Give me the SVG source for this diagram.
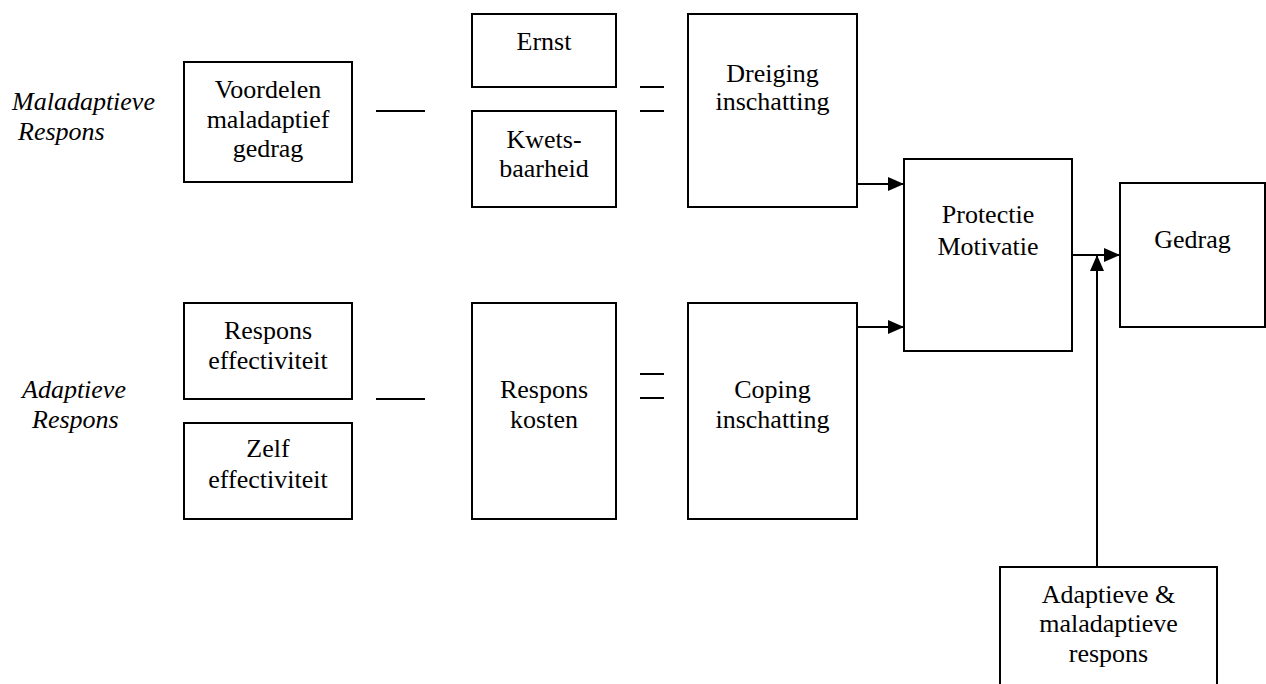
<svg xmlns="http://www.w3.org/2000/svg" width="1266" height="684" viewBox="0 0 1266 684">
<style>
.box{fill:#fff;stroke:#000;stroke-width:2}
.ln{stroke:#000;stroke-width:2;fill:none}
</style>
<defs>
<marker id="ah" markerWidth="16" markerHeight="14" refX="16" refY="7" orient="auto" markerUnits="userSpaceOnUse">
<path d="M0,0 L16,7 L0,14 Z" fill="#000"/>
</marker>
</defs>
<rect width="1266" height="684" fill="#fff"/>
<g id="labels">
<text x="12" y="110" style="font-family:'Times New Roman','Liberation Serif',serif;font-size:26px;font-style:italic">Maladaptieve</text>
<text x="18" y="140" style="font-family:'Times New Roman','Liberation Serif',serif;font-size:26px;font-style:italic">Respons</text>
<text x="22" y="398" style="font-family:'Times New Roman','Liberation Serif',serif;font-size:26px;font-style:italic">Adaptieve</text>
<text x="32" y="428" style="font-family:'Times New Roman','Liberation Serif',serif;font-size:26px;font-style:italic">Respons</text>
</g>
<g id="voordelen">
<rect class="box" x="184" y="62" width="168" height="120"/>
<text x="268" y="98" style="font-family:'Times New Roman','Liberation Serif',serif;font-size:26px" text-anchor="middle">Voordelen</text>
<text x="268" y="128" style="font-family:'Times New Roman','Liberation Serif',serif;font-size:26px" text-anchor="middle">maladaptief</text>
<text x="268" y="157" style="font-family:'Times New Roman','Liberation Serif',serif;font-size:26px" text-anchor="middle">gedrag</text>
</g>
<g id="ernst">
<rect class="box" x="472" y="14" width="144" height="73"/>
<text x="544" y="50" style="font-family:'Times New Roman','Liberation Serif',serif;font-size:26px" text-anchor="middle">Ernst</text>
</g>
<g id="kwetsbaarheid">
<rect class="box" x="472" y="111" width="144" height="96"/>
<text x="544" y="148" style="font-family:'Times New Roman','Liberation Serif',serif;font-size:26px" text-anchor="middle">Kwets-</text>
<text x="544" y="177" style="font-family:'Times New Roman','Liberation Serif',serif;font-size:26px" text-anchor="middle">baarheid</text>
</g>
<g id="dreiging">
<rect class="box" x="688" y="14" width="169" height="193"/>
<text x="772.5" y="82" style="font-family:'Times New Roman','Liberation Serif',serif;font-size:26px" text-anchor="middle">Dreiging</text>
<text x="772.5" y="110" style="font-family:'Times New Roman','Liberation Serif',serif;font-size:26px" text-anchor="middle">inschatting</text>
</g>
<g id="protectie">
<rect class="box" x="904" y="159" width="168" height="192"/>
<text x="988" y="223" style="font-family:'Times New Roman','Liberation Serif',serif;font-size:26px" text-anchor="middle">Protectie</text>
<text x="988" y="255" style="font-family:'Times New Roman','Liberation Serif',serif;font-size:26px" text-anchor="middle">Motivatie</text>
</g>
<g id="gedrag">
<rect class="box" x="1120" y="183" width="145" height="144"/>
<text x="1192.5" y="248" style="font-family:'Times New Roman','Liberation Serif',serif;font-size:26px" text-anchor="middle">Gedrag</text>
</g>
<g id="respons-effectiviteit">
<rect class="box" x="184" y="303" width="168" height="96"/>
<text x="268" y="339" style="font-family:'Times New Roman','Liberation Serif',serif;font-size:26px" text-anchor="middle">Respons</text>
<text x="268" y="369" style="font-family:'Times New Roman','Liberation Serif',serif;font-size:26px" text-anchor="middle">effectiviteit</text>
</g>
<g id="zelf-effectiviteit">
<rect class="box" x="184" y="423" width="168" height="96"/>
<text x="268" y="457" style="font-family:'Times New Roman','Liberation Serif',serif;font-size:26px" text-anchor="middle">Zelf</text>
<text x="268" y="488" style="font-family:'Times New Roman','Liberation Serif',serif;font-size:26px" text-anchor="middle">effectiviteit</text>
</g>
<g id="respons-kosten">
<rect class="box" x="472" y="303" width="144" height="216"/>
<text x="544" y="398" style="font-family:'Times New Roman','Liberation Serif',serif;font-size:26px" text-anchor="middle">Respons</text>
<text x="544" y="428" style="font-family:'Times New Roman','Liberation Serif',serif;font-size:26px" text-anchor="middle">kosten</text>
</g>
<g id="coping">
<rect class="box" x="688" y="303" width="169" height="216"/>
<text x="772.5" y="398" style="font-family:'Times New Roman','Liberation Serif',serif;font-size:26px" text-anchor="middle">Coping</text>
<text x="772.5" y="428" style="font-family:'Times New Roman','Liberation Serif',serif;font-size:26px" text-anchor="middle">inschatting</text>
</g>
<g id="adaptieve-maladaptieve">
<rect class="box" x="1000" y="567" width="217" height="130"/>
<text x="1108.5" y="603" style="font-family:'Times New Roman','Liberation Serif',serif;font-size:26px" text-anchor="middle">Adaptieve &amp;</text>
<text x="1108.5" y="632" style="font-family:'Times New Roman','Liberation Serif',serif;font-size:26px" text-anchor="middle">maladaptieve</text>
<text x="1108.5" y="662" style="font-family:'Times New Roman','Liberation Serif',serif;font-size:26px" text-anchor="middle">respons</text>
</g>
<g id="connectors">
<line class="ln" x1="376" y1="111" x2="425" y2="111"/>
<line class="ln" x1="640" y1="87" x2="664" y2="87"/>
<line class="ln" x1="640" y1="111" x2="664" y2="111"/>
<line class="ln" x1="376" y1="399" x2="425" y2="399"/>
<line class="ln" x1="640" y1="374" x2="664" y2="374"/>
<line class="ln" x1="640" y1="398" x2="664" y2="398"/>
<line class="ln" x1="857" y1="184" x2="904" y2="184" marker-end="url(#ah)"/>
<line class="ln" x1="857" y1="327" x2="904" y2="327" marker-end="url(#ah)"/>
<line class="ln" x1="1072" y1="255" x2="1120" y2="255" marker-end="url(#ah)"/>
<line class="ln" x1="1097" y1="567" x2="1097" y2="255" marker-end="url(#ah)"/>
</g>
</svg>
